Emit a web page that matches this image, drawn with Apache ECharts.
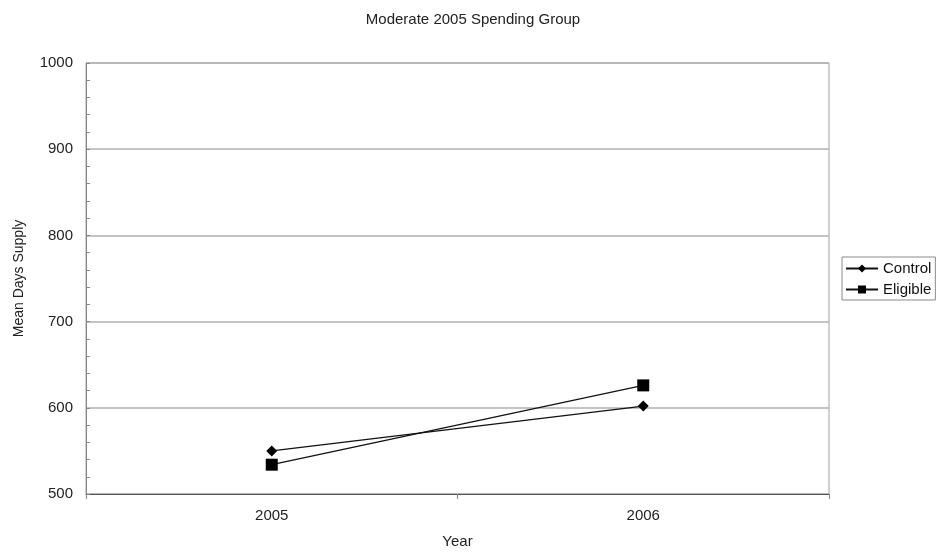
<!DOCTYPE html>
<html>
<head>
<meta charset="utf-8">
<script src="https://cdn.jsdelivr.net/npm/echarts@6/dist/echarts.min.js"></script>
<style>
  html, body { margin: 0; padding: 0; background: #fff; }
  #chart { width: 946px; height: 554px; }
</style>
</head>
<body>
<div id="chart"></div>
<script>
// Mean days supply by year for the moderate 2005 spending group
const years = ['2005', '2006'];
const controlValues = [550, 602];
const eligibleValues = [534, 626];
const yTicks = [500, 600, 700, 800, 900, 1000];

const font = 'Liberation Sans, Arial, sans-serif';
const chart = echarts.init(document.getElementById('chart'));

chart.setOption({
  animation: false,
  backgroundColor: '#fff',
  title: {
    text: 'Moderate 2005 Spending Group',
    left: 'center',
    top: 7,
    textStyle: { fontFamily: font, fontSize: 15, fontWeight: 'normal', color: '#222' }
  },
  grid: {
    left: 86, right: 117, top: 63, bottom: 60,
    outerBoundsMode: 'none',
    show: true, borderColor: '#a0a0a0', borderWidth: 1, backgroundColor: 'transparent'
  },
  legend: {
    orient: 'vertical',
    left: 842, top: 257,
    itemWidth: 32, itemHeight: 10, itemGap: 6,
    padding: [4, 4, 3, 3],
    borderColor: '#8a8a8a', borderWidth: 1,
    textStyle: { fontFamily: font, fontSize: 15, color: '#111' },
    data: ['Control', 'Eligible']
  },
  xAxis: {
    type: 'category',
    data: years,
    boundaryGap: true,
    name: 'Year',
    nameLocation: 'middle',
    nameGap: 40,
    nameTextStyle: { fontFamily: font, fontSize: 15, color: '#222' },
    axisLine: { lineStyle: { color: '#555', width: 1 } },
    axisTick: { show: true, length: 5, alignWithLabel: false, lineStyle: { color: '#888' } },
    axisLabel: { fontFamily: font, fontSize: 15, color: '#222', margin: 14 },
    splitLine: { show: false }
  },
  yAxis: {
    type: 'value',
    min: yTicks[0],
    max: yTicks[yTicks.length - 1],
    interval: 100,
    name: 'Mean Days Supply',
    nameLocation: 'middle',
    nameGap: 60,
    nameTextStyle: { fontFamily: font, fontSize: 14, color: '#222' },
    axisLine: { show: true, lineStyle: { color: '#888', width: 1 } },
    axisTick: { show: true, inside: true, length: 4, lineStyle: { color: '#888' } },
    minorTick: { show: true, splitNumber: 5, length: 4, lineStyle: { color: '#888' } },
    axisLabel: {
      fontFamily: font, fontSize: 15, color: '#222', margin: 13,
      formatter: (v) => String(v)
    },
    splitLine: { show: true, lineStyle: { color: '#b0b0b0', width: 1.5 } }
  },
  series: [
    {
      name: 'Control',
      type: 'line',
      data: controlValues,
      symbol: 'diamond',
      symbolSize: 11,
      itemStyle: { color: '#000' },
      lineStyle: { color: '#111', width: 1.3 }
    },
    {
      name: 'Eligible',
      type: 'line',
      data: eligibleValues,
      symbol: 'rect',
      symbolSize: 12,
      itemStyle: { color: '#000' },
      lineStyle: { color: '#111', width: 1.3 }
    }
  ]
});
</script>
</body>
</html>
